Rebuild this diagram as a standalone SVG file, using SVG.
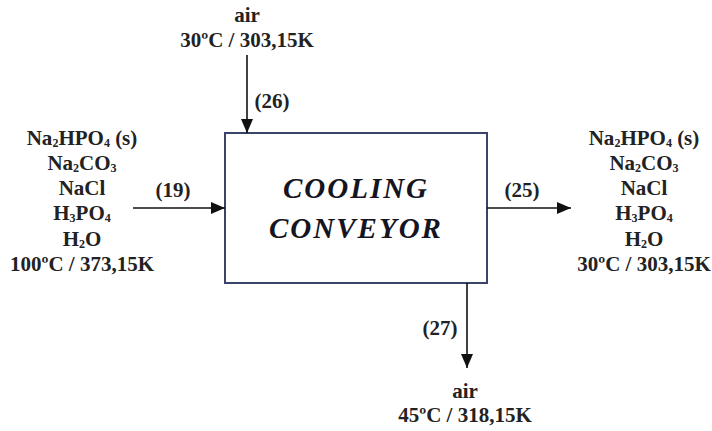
<svg xmlns="http://www.w3.org/2000/svg" width="712" height="431" viewBox="0 0 712 431">
<style>
.ln{stroke:#111;stroke-width:1.6;fill:none}
</style>
<defs>
<marker id="ah" viewBox="0 0 14 12" refX="14" refY="6" markerWidth="14" markerHeight="12" markerUnits="userSpaceOnUse" orient="auto">
<path d="M0,0 L14,6 L0,12 Z" fill="#111"/>
</marker>
</defs>
<rect width="712" height="431" fill="#fff"/>
<g id="conveyor">
<rect x="225" y="133" width="262" height="150" fill="#fff" stroke="#3a4466" stroke-width="2"/>
<g font-family="'Liberation Serif', 'Times New Roman', serif" font-weight="bold" font-style="italic" font-size="29" fill="#151522" text-anchor="middle" letter-spacing="2">
<text x="356" y="198">COOLING</text>
<text x="356" y="238">CONVEYOR</text>
</g>
</g>
<g id="connectors">
<line class="ln" x1="247" y1="55" x2="247" y2="133" marker-end="url(#ah)"/>
<line class="ln" x1="133" y1="208" x2="225" y2="208" marker-end="url(#ah)"/>
<line class="ln" x1="487" y1="208" x2="571" y2="208" marker-end="url(#ah)"/>
<line class="ln" x1="467" y1="283" x2="467" y2="368" marker-end="url(#ah)"/>
<g font-family="'Liberation Serif', 'Times New Roman', serif" font-weight="bold" font-size="21" fill="#222" text-anchor="middle">
<text x="272" y="108">(26)</text>
<text x="173" y="197">(19)</text>
<text x="522" y="197">(25)</text>
<text x="440" y="335">(27)</text>
</g>
</g>
<g id="air-in" font-family="'Liberation Serif', 'Times New Roman', serif" font-weight="bold" font-size="21" fill="#222" text-anchor="middle">
<text x="247" y="22">air</text>
<text x="247" y="47">30&#186;C / 303,15K</text>
</g>
<g id="feed" font-family="'Liberation Serif', 'Times New Roman', serif" font-weight="bold" font-size="21" fill="#222" text-anchor="middle">
<text x="82" y="145">Na<tspan font-size="12" dy="2">2</tspan><tspan dy="-2">HPO</tspan><tspan font-size="12" dy="2">4</tspan><tspan dy="-2"> (s)</tspan></text>
<text x="82" y="170">Na<tspan font-size="12" dy="2">2</tspan><tspan dy="-2">CO</tspan><tspan font-size="12" dy="2">3</tspan></text>
<text x="82" y="195">NaCl</text>
<text x="82" y="220">H<tspan font-size="12" dy="2">3</tspan><tspan dy="-2">PO</tspan><tspan font-size="12" dy="2">4</tspan></text>
<text x="82" y="246">H<tspan font-size="12" dy="2">2</tspan><tspan dy="-2">O</tspan></text>
<text x="82" y="271">100&#186;C / 373,15K</text>
</g>
<g id="product" font-family="'Liberation Serif', 'Times New Roman', serif" font-weight="bold" font-size="21" fill="#222" text-anchor="middle">
<text x="644" y="145">Na<tspan font-size="12" dy="2">2</tspan><tspan dy="-2">HPO</tspan><tspan font-size="12" dy="2">4</tspan><tspan dy="-2"> (s)</tspan></text>
<text x="644" y="170">Na<tspan font-size="12" dy="2">2</tspan><tspan dy="-2">CO</tspan><tspan font-size="12" dy="2">3</tspan></text>
<text x="644" y="195">NaCl</text>
<text x="644" y="220">H<tspan font-size="12" dy="2">3</tspan><tspan dy="-2">PO</tspan><tspan font-size="12" dy="2">4</tspan></text>
<text x="644" y="246">H<tspan font-size="12" dy="2">2</tspan><tspan dy="-2">O</tspan></text>
<text x="644" y="271">30&#186;C / 303,15K</text>
</g>
<g id="air-out" font-family="'Liberation Serif', 'Times New Roman', serif" font-weight="bold" font-size="21" fill="#222" text-anchor="middle">
<text x="465" y="398">air</text>
<text x="465" y="422">45&#186;C / 318,15K</text>
</g>
</svg>
